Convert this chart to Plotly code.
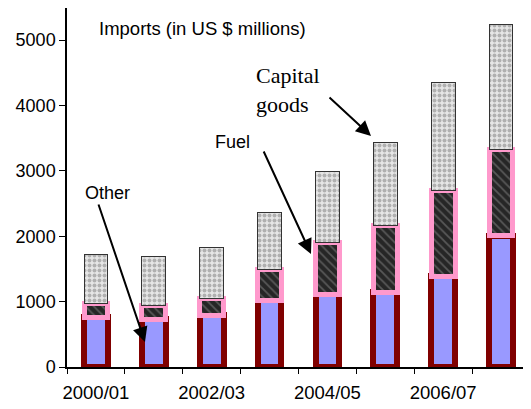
import plotly.graph_objects as go

years = ["2000/01", "2001/02", "2002/03", "2003/04", "2004/05", "2005/06", "2006/07", "2007/08"]
tick_labels = ["2000/01", "", "2002/03", "", "2004/05", "", "2006/07", ""]
other = [760, 730, 790, 1020, 1110, 1140, 1390, 2010]
fuel = [205, 210, 265, 470, 790, 1020, 1305, 1310]
capital = [750, 745, 770, 875, 1095, 1275, 1650, 1925]

# page offset of the plotly div (default body margin)
OFF = 8
W, H = 531 - OFF, 409 - OFF
# plot-area edges in page pixels
L, R, T, B = 67, 530, 8, 367


def px(x):
    return (x - L) / (R - L)


def py(y):
    return (B - y) / (B - T)


FONT = "Arial, Liberation Sans, sans-serif"

fig = go.Figure()
fig.add_trace(go.Bar(
    x=years, y=other, name="Other",
    marker=dict(color="#9999FF", line=dict(color="#800000", width=6)),
))
fig.add_trace(go.Bar(
    x=years, y=fuel, name="Fuel",
    marker=dict(color="#262626", line=dict(color="#FF99CC", width=5),
                pattern=dict(shape="\\", fgcolor="#8a8a8a", size=6, solidity=0.3,
                             fillmode="overlay")),
))
fig.add_trace(go.Bar(
    x=years, y=capital, name="Capital goods",
    marker=dict(color="#e6e6e6", line=dict(color="#333333", width=1),
                pattern=dict(shape=".", fgcolor="#7a7a7a", size=5, solidity=0.5,
                             fillmode="overlay")),
))

annotations = [
    dict(text="Imports (in US $ millions)", x=px(97), y=py(28), xanchor="left",
         yanchor="middle", font=dict(family=FONT, size=18.5, color="black")),
    dict(text="Capital<br>goods", x=px(254), y=py(90), xanchor="left", align="left",
         yanchor="middle", font=dict(family="Times New Roman, Liberation Serif, serif",
                                     size=22, color="black")),
    dict(text="Fuel", x=px(232), y=py(142), xanchor="center", yanchor="middle",
         font=dict(family=FONT, size=18, color="black")),
    dict(text="Other", x=px(107), y=py(193), xanchor="center", yanchor="middle",
         font=dict(family=FONT, size=18, color="black")),
]
arrows = [((328, 96), (371, 136)), ((263, 150), (311, 254)), ((98, 203), (145, 342))]
for (tx, ty), (hx, hy) in arrows:
    annotations.append(dict(
        text="", x=px(hx), y=py(hy), ax=tx - hx, ay=ty - hy,
        showarrow=True, arrowhead=2, arrowsize=1.5, arrowwidth=2, arrowcolor="black",
        standoff=0,
    ))
for a in annotations:
    a.setdefault("xref", "paper")
    a.setdefault("yref", "paper")
    a.setdefault("showarrow", False)

fig.update_layout(
    width=W, height=H,
    margin=dict(l=L - OFF, r=W + OFF - R, t=T - OFF, b=H + OFF - B, pad=0, autoexpand=False),
    paper_bgcolor="white", plot_bgcolor="white",
    barmode="stack", bargap=0.59,
    showlegend=False,
    annotations=annotations,
    font=dict(family=FONT, size=18, color="black"),
    xaxis=dict(
        type="category", tickmode="array", tickvals=years, ticktext=tick_labels,
        tickson="boundaries", ticks="outside", ticklen=5, tickcolor="black",
        tickangle=0, automargin=False, ticklabelstandoff=8,
        showline=True, linecolor="black", linewidth=2, mirror=True,
        showgrid=False, tickfont=dict(family=FONT, size=18.5, color="black"),
    ),
    yaxis=dict(
        range=[0, 5490], tickvals=[0, 1000, 2000, 3000, 4000, 5000],
        ticks="outside", ticklen=6, tickcolor="black", automargin=False,
        showline=True, linecolor="black", linewidth=1.5, mirror=True,
        showgrid=False, zeroline=False, tickfont=dict(family=FONT, size=18, color="black"),
    ),
)

fig.write_html("out.html")
